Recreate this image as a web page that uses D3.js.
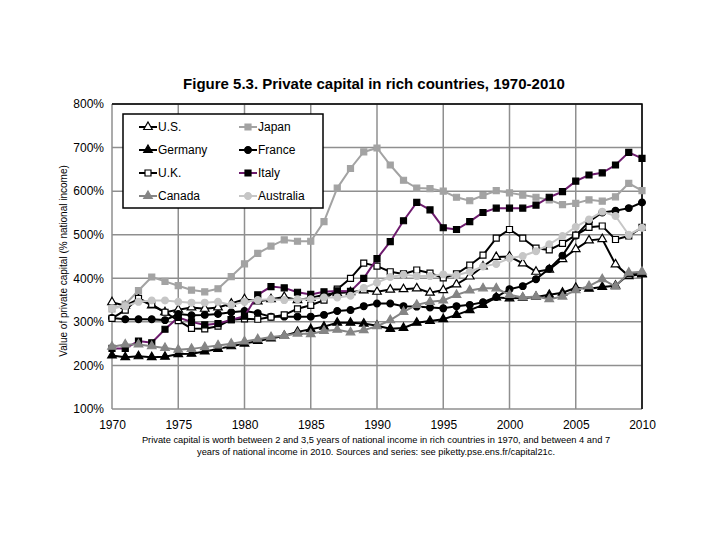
<!DOCTYPE html>
<html>
<head>
<meta charset="utf-8">
<script src="https://cdn.jsdelivr.net/npm/d3@7"></script>
<style>
  body { margin: 0; background: #fff; }
  svg { font-family: "Liberation Sans", Arial, sans-serif; }
</style>
</head>
<body>
<svg id="chart" width="720" height="540"></svg>
<script>
// data (% of national income)
var years = [1970,1971,1972,1973,1974,1975,1976,1977,1978,1979,
             1980,1981,1982,1983,1984,1985,1986,1987,1988,1989,
             1990,1991,1992,1993,1994,1995,1996,1997,1998,1999,
             2000,2001,2002,2003,2004,2005,2006,2007,2008,2009,2010]

var us = [345,337,352,338,322,328,333,330,333,342, 352,347,352,357,350,355,362,366,368,372,
          369,374,375,377,367,373,386,404,427,449, 450,434,415,420,444,467,487,490,432,405,410]
var japan = [330,340,372,403,393,383,373,369,376,404, 433,457,474,488,485,485,530,607,652,690,
             699,660,625,607,606,600,586,578,590,601, 596,591,586,580,569,572,580,577,587,618,601]
var germany = [223,219,221,219,220,226,227,232,238,244, 250,256,262,268,277,283,289,298,298,296,
               291,284,286,298,302,306,316,327,339,356, 354,355,357,362,367,378,376,380,383,409,409]
var france = [309,306,306,306,304,318,315,316,318,322, 325,320,312,312,312,312,316,325,327,336,
              342,342,336,335,333,331,336,339,345,357, 375,382,398,422,452,498,530,551,555,561,574]
var uk = [308,327,354,340,322,303,285,284,290,305, 307,306,311,316,330,338,350,375,400,435,
          428,415,410,419,412,401,410,430,453,492, 512,492,469,465,480,499,517,520,489,497,517]
var italy = [239,239,256,252,283,310,300,293,296,305, 313,362,381,378,368,363,369,371,370,400,
             445,484,532,574,557,516,512,530,551,561, 561,561,568,586,599,623,637,642,660,689,675]
var canada = [243,248,248,244,240,236,238,242,246,250, 255,260,265,268,273,272,279,282,276,281,
              290,304,323,339,346,349,362,372,377,377, 362,356,358,352,358,373,382,398,381,413,415]
var australia = [331,336,346,349,349,346,344,344,346,339, 346,350,352,350,352,352,356,356,360,378,
                 390,403,408,405,405,409,407,415,427,433, 446,451,462,478,497,518,535,553,543,500,516]

var series_names = ["U.S.","Japan","Germany","France","U.K.","Italy","Canada","Australia"]
var series_values = [us, japan, germany, france, uk, italy, canada, australia]

var y_ticks = [100,200,300,400,500,600,700,800]
var x_ticks = [1970,1975,1980,1985,1990,1995,2000,2005,2010]

// look of each series
var styles = {
    "U.S.":      {line: "#000000", shape: d3.symbolTriangle, fill: "#ffffff", stroke: "#000000", size: 32},
    "Japan":     {line: "#a3a3a3", shape: d3.symbolSquare,   fill: "#a3a3a3", stroke: "#a3a3a3", size: 36},
    "Germany":   {line: "#000000", shape: d3.symbolTriangle, fill: "#000000", stroke: "#000000", size: 32},
    "France":    {line: "#000000", shape: d3.symbolCircle,   fill: "#000000", stroke: "#000000", size: 36},
    "U.K.":      {line: "#000000", shape: d3.symbolSquare,   fill: "#ffffff", stroke: "#000000", size: 36},
    "Italy":     {line: "#6e1c6e", shape: d3.symbolSquare,   fill: "#000000", stroke: "#000000", size: 36},
    "Canada":    {line: "#858585", shape: d3.symbolTriangle, fill: "#858585", stroke: "#858585", size: 32},
    "Australia": {line: "#c6c6c6", shape: d3.symbolCircle,   fill: "#c6c6c6", stroke: "#c6c6c6", size: 36}
}

var plot_left = 112, plot_right = 642, plot_top = 104, plot_bottom = 409

var svg = d3.select("#chart")

var x = d3.scaleLinear().domain([1970, 2010]).range([plot_left, plot_right])
var y = d3.scaleLinear().domain([100, 800]).range([plot_bottom, plot_top])

// title
svg.append("text")
    .text("Figure 5.3. Private capital in rich countries, 1970-2010")
    .attr("x", 374)
    .attr("y", 89)
    .attr("text-anchor", "middle")
    .style("font-size", "15px")
    .style("font-weight", "bold")

// grid
var grid = svg.append("g")
grid.selectAll(".hgrid")
    .data(y_ticks).enter()
    .append("line")
    .attr("class", "hgrid")
    .attr("x1", plot_left).attr("x2", plot_right)
    .attr("y1", function(d){ return y(d) })
    .attr("y2", function(d){ return y(d) })
    .attr("stroke", "#8f8f8f")
    .attr("stroke-width", 1.5)
grid.selectAll(".vgrid")
    .data(x_ticks).enter()
    .append("line")
    .attr("class", "vgrid")
    .attr("y1", plot_top).attr("y2", plot_bottom)
    .attr("x1", function(d){ return x(d) })
    .attr("x2", function(d){ return x(d) })
    .attr("stroke", "#8f8f8f")
    .attr("stroke-width", 1.5)
// top and right border in black
svg.append("path")
    .attr("d", "M" + plot_left + "," + plot_top + "H" + plot_right + "V" + plot_bottom)
    .attr("fill", "none")
    .attr("stroke", "#000")
    .attr("stroke-width", 1.5)

// axes
var y_axis = svg.append("g")
    .attr("transform", "translate(" + plot_left + ",0)")
    .call(d3.axisLeft(y).tickValues(y_ticks).tickFormat(function(d){ return d + "%" }).tickSize(0).tickPadding(8))
y_axis.select(".domain").remove()
y_axis.selectAll("text").style("font-size", "12px").style("font-family", "Liberation Sans, Arial, sans-serif")

var x_axis = svg.append("g")
    .attr("transform", "translate(0," + plot_bottom + ")")
    .call(d3.axisBottom(x).tickValues(x_ticks).tickFormat(d3.format("d")).tickSize(0).tickPadding(11))
x_axis.select(".domain").remove()
x_axis.selectAll("text").style("font-size", "12px").style("font-family", "Liberation Sans, Arial, sans-serif")

svg.append("text")
    .text("Value of private capital (% national income)")
    .attr("transform", "translate(67,261) rotate(-90)")
    .attr("text-anchor", "middle")
    .style("font-size", "10px")

// caption
svg.append("text")
    .text("Private capital is worth between 2 and 3,5 years of national income in rich countries in 1970, and between 4 and 7")
    .attr("x", 376).attr("y", 443)
    .attr("text-anchor", "middle")
    .style("font-size", "9.3px")
svg.append("text")
    .text("years of national income in 2010. Sources and series: see piketty.pse.ens.fr/capital21c.")
    .attr("x", 376).attr("y", 455)
    .attr("text-anchor", "middle")
    .style("font-size", "9.3px")

// lines and markers
var line = d3.line()
    .x(function(d, i){ return x(years[i]) })
    .y(function(d){ return y(d) })

series_names.forEach(function(name, k){
    var st = styles[name]
    var values = series_values[k]
    var g = svg.append("g").attr("class", "series")
    g.append("path")
        .datum(values)
        .attr("d", line)
        .attr("fill", "none")
        .attr("stroke", st.line)
        .attr("stroke-width", 2)
    g.selectAll(".marker")
        .data(values).enter()
        .append("path")
        .attr("class", "marker")
        .attr("d", d3.symbol().type(st.shape).size(st.size))
        .attr("transform", function(d, i){ return "translate(" + x(years[i]) + "," + y(d) + ")" })
        .attr("fill", st.fill)
        .attr("stroke", st.stroke)
        .attr("stroke-width", 1.2)
})

// legend
var legend = svg.append("g")
legend.append("rect")
    .attr("x", 123).attr("y", 114)
    .attr("width", 200).attr("height", 94)
    .attr("fill", "#fff")
    .attr("stroke", "#000")
    .attr("stroke-width", 1.5)

var legend_rows = [127, 150, 173, 196]
series_names.forEach(function(name, k){
    var st = styles[name]
    var cx = (k % 2 == 0) ? 148 : 248
    var cy = legend_rows[Math.floor(k / 2)]
    legend.append("line")
        .attr("x1", cx - 9).attr("x2", cx + 9)
        .attr("y1", cy).attr("y2", cy)
        .attr("stroke", st.line)
        .attr("stroke-width", 2)
    legend.append("path")
        .attr("d", d3.symbol().type(st.shape).size(st.size))
        .attr("transform", "translate(" + cx + "," + cy + ")")
        .attr("fill", st.fill)
        .attr("stroke", st.stroke)
        .attr("stroke-width", 1.2)
    legend.append("text")
        .text(name)
        .attr("x", cx + 10)
        .attr("y", cy + 4)
        .style("font-size", "12px")
})
</script>
</body>
</html>
